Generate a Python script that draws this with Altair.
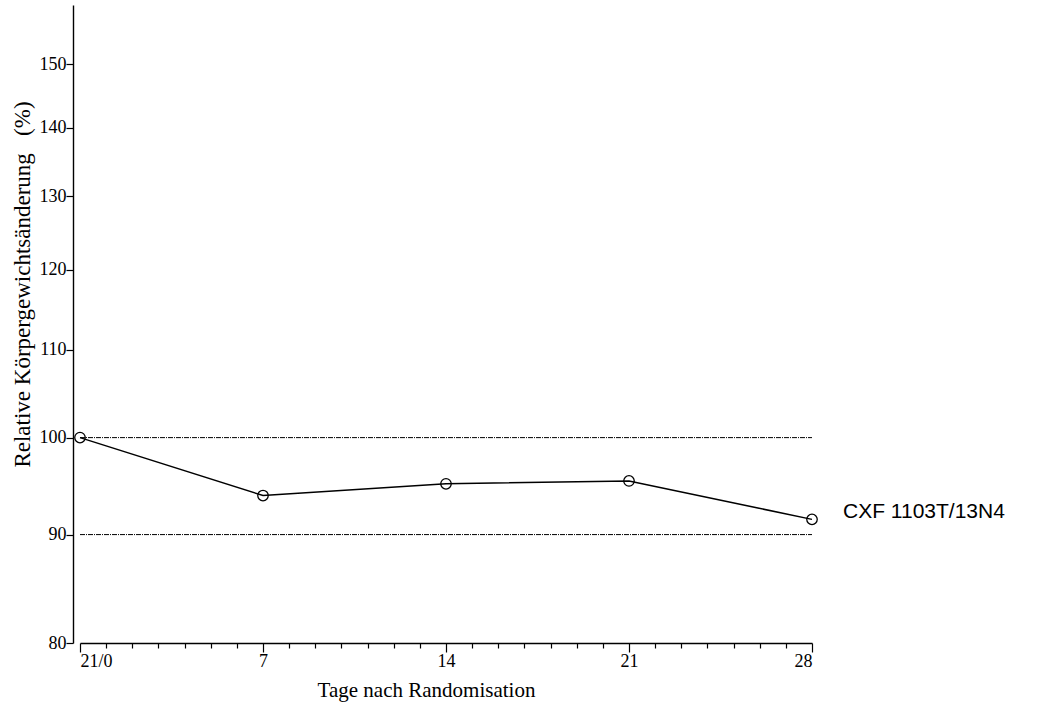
import altair as alt
import pandas as pd

# Relative body-weight change over days after randomisation
days = [0, 7, 14, 21, 28]
weight_pct = [100.0, 93.9, 95.1, 95.4, 91.5]
series_name = "CXF 1103T/13N4"

# Horizontal reference levels (%)
ref_levels = [100, 90]

# Axis ticks
y_ticks = [80, 90, 100, 110, 120, 130, 140, 150]
x_major = [0, 7, 14, 21, 28]
x_all_ticks = list(range(0, 29))
x_tick_names = {0: "21/0"}

df = pd.DataFrame({"day": days, "pct": weight_pct, "series": series_name})
refs = pd.DataFrame({"level": ref_levels, "x0": [x_major[0]] * 2, "x1": [x_major[-1]] * 2})

serif = "Liberation Serif"

label_expr = " : ".join(
    [f"datum.value === {k} ? '{v}'" for k, v in x_tick_names.items()]
    + ["datum.value % 7 === 0 ? datum.label : ''"]
)

x_scale = alt.Scale(domain=[0, 28], nice=False, zero=False)
y_scale = alt.Scale(type="log", domain=[80, 160], nice=False)

x_axis = alt.Axis(
    values=x_all_ticks,
    labelExpr=label_expr,
    labelOverlap=False,
    labelFont=serif,
    labelFontSize=18,
    labelColor="black",
    labelPadding=0,
    tickSize={"condition": {"test": "datum.value % 7 === 0", "value": 9}, "value": 5},
    tickColor="black",
    tickWidth=1.2,
    domainColor="black",
    domainWidth=1.4,
    offset=0,
    grid=False,
    title="Tage nach Randomisation",
    titleFont=serif,
    titleFontSize=21,
    titleFontWeight="normal",
    titleColor="black",
    titleX=346,
    titleY=47,
    titleBaseline="middle",
)

y_axis = alt.Axis(
    values=y_ticks,
    labelFont=serif,
    labelFontSize=18,
    labelColor="black",
    labelPadding=0,
    tickSize=7,
    tickColor="black",
    tickWidth=1.2,
    domainColor="black",
    domainWidth=1.4,
    offset=7,
    grid=False,
    title="Relative Körpergewichtsänderung\u00a0\u00a0\u00a0(%)",
    titleFont=serif,
    titleFontSize=23,
    titleFontWeight="normal",
    titleColor="black",
    titleAngle=270,
    titleAlign="center",
    titleBaseline="middle",
    titleX=-51,
    titleY=279,
)


def x_enc(field):
    return alt.X(f"{field}:Q", scale=x_scale, axis=x_axis)


def y_enc(field):
    return alt.Y(f"{field}:Q", scale=y_scale, axis=y_axis)


rules = alt.Chart(refs).mark_rule(
    color="black", strokeWidth=1, strokeDash=[5, 1, 1, 1]
).encode(x=x_enc("x0"), x2="x1:Q", y=y_enc("level"))

line = alt.Chart(df).mark_line(color="black", strokeWidth=1.5).encode(
    x=x_enc("day"), y=y_enc("pct")
)

points = alt.Chart(df).mark_point(
    shape="circle", filled=False, color="black", size=110, strokeWidth=1.3, opacity=1
).encode(x=x_enc("day"), y=y_enc("pct"))

label = alt.Chart(df).transform_filter(
    alt.datum.day == days[-1]
).mark_text(
    align="left", baseline="middle", dx=31, dy=-7,
    font="Liberation Sans", fontSize=21, color="black"
).encode(x=x_enc("day"), y=y_enc("pct"), text="series:N")

chart = alt.layer(rules, line, points, label).properties(
    width=732,
    height=638,
    autosize=alt.AutoSizeParams(type="none"),
    padding={"left": 80, "top": 5, "right": 237, "bottom": 70},
    background="white",
).configure_view(stroke=None)

chart.save("out.html", embed_options={"renderer": "svg", "actions": False})
